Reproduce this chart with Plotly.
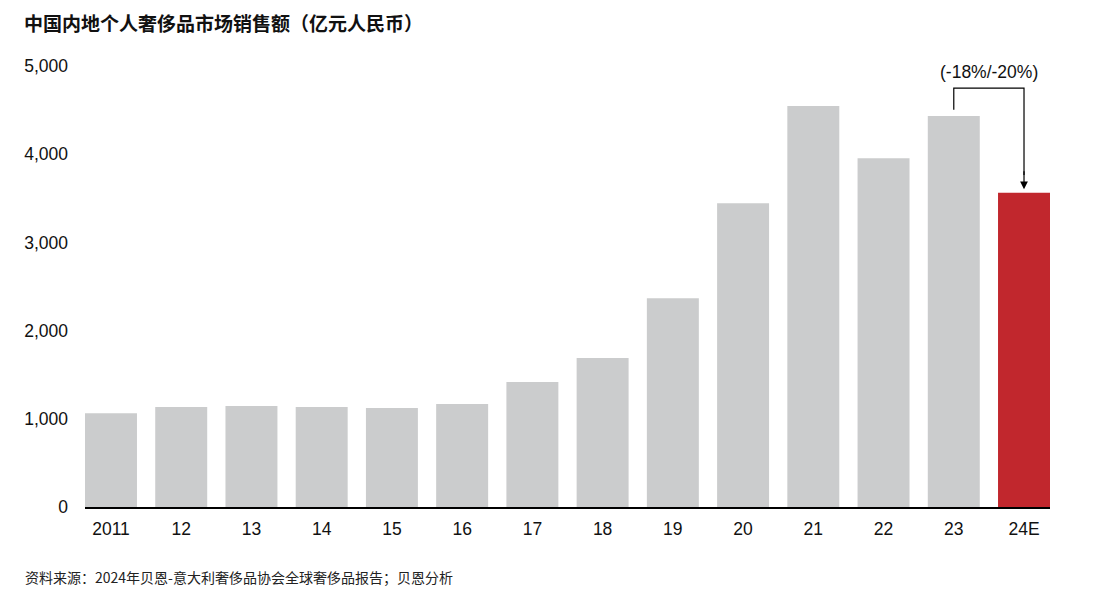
import plotly.graph_objects as go

categories = ["2011", "12", "13", "14", "15", "16", "17", "18", "19", "20", "21", "22", "23", "24E"]
values = [1062, 1134, 1145, 1134, 1122, 1168, 1417, 1689, 2366, 3443, 4546, 3953, 4433, 3563]
colors = ["#cbcccd"] * 13 + ["#c1272d"]
y_ticks = [0, 1000, 2000, 3000, 4000, 5000]
y_ticklabels = ["0", "1,000", "2,000", "3,000", "4,000", "5,000"]
title = "中国内地个人奢侈品市场销售额（亿元人民币）"
source = "资料来源：2024年贝恩-意大利奢侈品协会全球奢侈品报告；贝恩分析"
change_label = "(-18%/-20%)"

FONT = "Liberation Sans, Arial, Noto Sans CJK SC, sans-serif"
CJK = "Noto Sans CJK SC, Liberation Sans, sans-serif"

# page body has an 8px offset; size the figure to fit the window
W, H = 1087, 583
L, R, T, B = 77, 45, 58, 84
PW, PH = W - L - R, H - T - B

x_idx = list(range(len(categories)))

fig = go.Figure()
fig.add_trace(go.Bar(x=x_idx, y=values, marker=dict(color=colors, line=dict(width=0)),
                     hoverinfo="skip"))

bracket_y = 4750
i0, i1 = len(values) - 2, len(values) - 1
fig.add_shape(type="path",
              path=f"M {i0} {values[i0] + 70} L {i0} {bracket_y} L {i1} {bracket_y} L {i1} {values[i1] + 200}",
              xref="x", yref="y", line=dict(color="black", width=1.2))
fig.add_annotation(x=i1, y=values[i1] + 40, ax=i1, ay=values[i1] + 260,
                   xref="x", yref="y", axref="x", ayref="y",
                   showarrow=True, arrowhead=2, arrowsize=1.3, arrowwidth=1.2,
                   arrowcolor="black", text="")
fig.add_annotation(x=(i0 + i1) / 2, y=bracket_y, xref="x", yref="y",
                   text=change_label, showarrow=False, yanchor="bottom", yshift=4,
                   font=dict(family=FONT, size=17.5, color="#111111"))

fig.add_annotation(x=(15 - L) / PW, y=1 + (T - 14) / PH, xref="paper", yref="paper",
                   xanchor="left", yanchor="middle", text=f"<b>{title}</b>", showarrow=False,
                   borderpad=0, font=dict(family=CJK, size=19, color="#111111"))
fig.add_annotation(x=(15 - L) / PW, y=-(569 - (T + PH)) / PH, xref="paper", yref="paper",
                   xanchor="left", yanchor="middle", text=source, showarrow=False,
                   font=dict(family=CJK, size=14, color="#222222"))

fig.update_layout(
    width=W, height=H,
    margin=dict(l=L, r=R, t=T, b=B, autoexpand=False),
    paper_bgcolor="white", plot_bgcolor="white",
    bargap=0.26, showlegend=False,
    font=dict(family=FONT, size=17.5, color="#111111"),
)
fig.update_xaxes(tickmode="array", tickvals=x_idx, ticktext=categories,
                 range=[-0.37, len(categories) - 0.63], showgrid=False, zeroline=False,
                 showline=True, linecolor="black", linewidth=2, ticks="",
                 ticklabelstandoff=5, tickfont=dict(family=FONT, size=17.5, color="#111111"),
                 fixedrange=True)
fig.update_yaxes(tickmode="array", tickvals=y_ticks, ticktext=y_ticklabels,
                 range=[0, 5000], showgrid=False, zeroline=False, showline=False,
                 ticks="", ticklabelstandoff=16,
                 tickfont=dict(family=FONT, size=17.5, color="#111111"), fixedrange=True)

fig.write_html("out.html", config={"displayModeBar": False})
